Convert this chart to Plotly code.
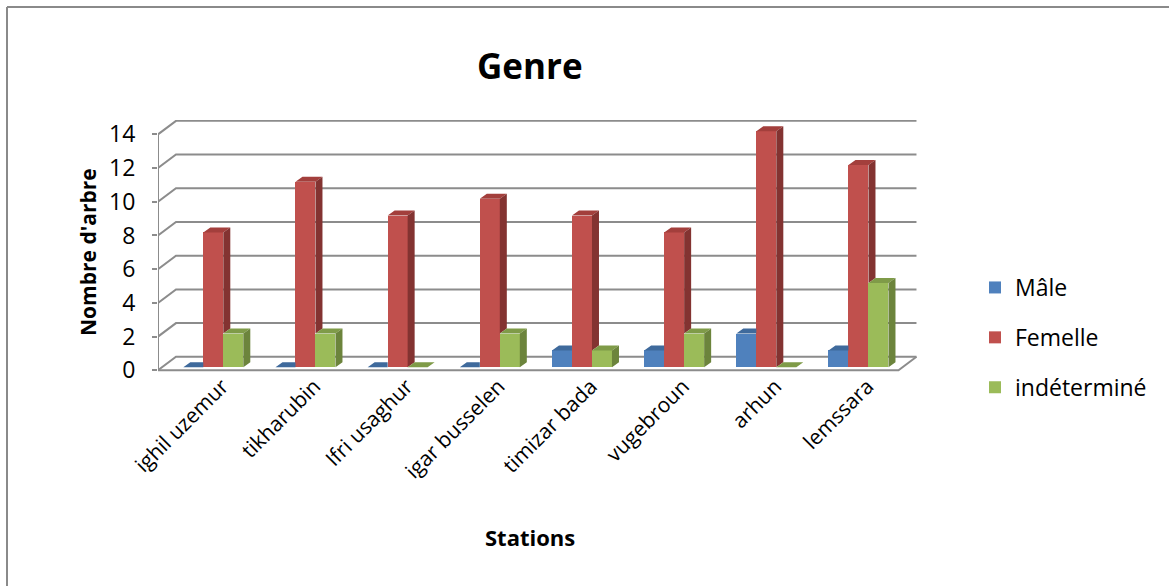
import plotly.graph_objects as go

stations = ["ighil uzemur", "tikharubin", "Ifri usaghur", "igar busselen",
            "timizar bada", "vugebroun", "arhun", "lemssara"]
male = [0, 0, 0, 0, 1, 1, 2, 1]
femelle = [8, 11, 9, 10, 9, 8, 14, 12]
indet = [2, 2, 0, 2, 1, 2, 0, 5]
series_names = ["Mâle", "Femelle", "indéterminé"]
y_ticks = [0, 2, 4, 6, 8, 10, 12, 14]

front_cols = ["#4F81BD", "#C0504D", "#9BBB59"]
top_cols = ["#3F6A9C", "#A33F3C", "#7F9B48"]
side_cols = ["#385D8A", "#833331", "#6C843C"]

FONT = "Open Sans"
W, H = 1169, 586
ML, MR, MT, MB = 158, 246, 120, 214
XR = [-0.6, 7.7]
YR = [-0.1, 14.85]
pw = W - ML - MR
ph = H - MT - MB
xu = (XR[1] - XR[0]) / pw   # data units per px
yu = (YR[1] - YR[0]) / ph

bw = 0.217          # bar width
base = 0.18         # bar base (3D floor offset)
bdx, bdy = 7 * xu, 5 * yu      # bar depth
wdx, wdy = 18 * xu, 13.5 * yu  # wall depth
label_shift = 9 * xu           # category labels sit slightly right of group centre

all_vals = [male, femelle, indet]
offsets = [-bw, 0.0, bw]

fig = go.Figure()

# front faces
for s, vals in enumerate(all_vals):
    fig.add_trace(go.Bar(
        x=[i + offsets[s] for i in range(len(stations))], y=vals, base=base,
        width=bw, name=series_names[s], marker=dict(color=front_cols[s], line=dict(width=0)),
        legendgroup=series_names[s], hoverinfo="skip"))

# top and side faces
for s, vals in enumerate(all_vals):
    tx, ty, sx, sy = [], [], [], []
    for i, v in enumerate(vals):
        xl = i + offsets[s] - bw / 2
        xr = xl + bw
        t = base + v
        nxt = base + all_vals[s + 1][i] if s < 2 else None
        if nxt is not None and nxt > t:
            tx += [xl, xl + bdx, xr, xr, xl, None]
            ty += [t, t + bdy, t + bdy, t, t, None]
        else:
            tx += [xl, xl + bdx, xr + bdx, xr, xl, None]
            ty += [t, t + bdy, t + bdy, t, t, None]
        lower = base if nxt is None else max(base, nxt)
        if v > 0 and lower < t:
            sx += [xr, xr + bdx, xr + bdx, xr, xr, None]
            sy += [lower, lower + bdy, t + bdy, t, lower, None]
    fig.add_trace(go.Scatter(x=tx, y=ty, mode="lines", fill="toself", fillcolor=top_cols[s],
                             line=dict(width=0, color=top_cols[s]), showlegend=False, hoverinfo="skip"))
    fig.add_trace(go.Scatter(x=sx, y=sy, mode="lines", fill="toself", fillcolor=side_cols[s],
                             line=dict(width=0, color=side_cols[s]), showlegend=False, hoverinfo="skip"))

grid_col = "#8c8c8c"
x0 = XR[0]
xfr = 7.434
shapes = []
for v in y_ticks:
    shapes.append(dict(type="path", xref="x", yref="y", layer="below",
                       path=f"M {x0},{v} L {x0 + wdx},{v + wdy} L {xfr + wdx},{v + wdy}",
                       line=dict(color=grid_col, width=2)))
# axis line
shapes.append(dict(type="line", xref="x", yref="y", layer="below", x0=x0, x1=x0, y0=0, y1=14,
                   line=dict(color=grid_col, width=2)))
# floor front and right edges
shapes.append(dict(type="path", xref="x", yref="y", layer="below",
                   path=f"M {x0},0 L {xfr},0 L {xfr + wdx},{wdy}",
                   line=dict(color=grid_col, width=2)))


def px2paper_x(p):
    return (p - ML) / pw


def px2paper_y(p):
    return (MT + ph - p) / ph


# outer chart border (only top and left edges fall inside the picture)
shapes.append(dict(type="line", xref="paper", yref="paper", layer="below",
                   x0=px2paper_x(7), x1=px2paper_x(1169), y0=px2paper_y(7), y1=px2paper_y(7),
                   line=dict(color="#8a8a8a", width=2)))
shapes.append(dict(type="line", xref="paper", yref="paper", layer="below",
                   x0=px2paper_x(7), x1=px2paper_x(7), y0=px2paper_y(7), y1=px2paper_y(586),
                   line=dict(color="#8a8a8a", width=2)))

annotations = [
    dict(text="<b>Genre</b>", xref="paper", yref="paper", x=px2paper_x(530), y=px2paper_y(65),
         showarrow=False, font=dict(family=FONT, size=35, color="black"), xanchor="center", yanchor="middle"),
    dict(text="<b>Stations</b>", xref="paper", yref="paper", x=px2paper_x(530), y=px2paper_y(537),
         showarrow=False, font=dict(family=FONT, size=22, color="black"), xanchor="center", yanchor="middle"),
    dict(text="<b>Nombre d'arbre</b>", xref="paper", yref="paper", x=px2paper_x(88), y=px2paper_y(252),
         showarrow=False, textangle=-90, font=dict(family=FONT, size=21, color="black"),
         xanchor="center", yanchor="middle"),
]

fig.update_layout(
    width=W, height=H, margin=dict(l=ML, r=MR, t=MT, b=MB, autoexpand=False),
    paper_bgcolor="white", plot_bgcolor="white",
    barmode="overlay", bargap=0,
    font=dict(family=FONT, size=20, color="black"),
    shapes=shapes, annotations=annotations,
    legend=dict(x=px2paper_x(975), y=px2paper_y(266), xanchor="left", yanchor="top",
                traceorder="grouped", tracegroupgap=17, font=dict(family=FONT, size=23, color="black"),
                bgcolor="rgba(0,0,0,0)"),
    xaxis=dict(range=XR, tickmode="array", tickvals=[i + label_shift for i in range(len(stations))],
               ticktext=stations, tickangle=-45, showgrid=False, zeroline=False, showline=False, ticks="",
               ticklabelstandoff=-3, tickfont=dict(family=FONT, size=21, color="black")),
    yaxis=dict(range=YR, tickmode="array", tickvals=y_ticks, ticktext=[str(v) for v in y_ticks],
               showgrid=False, zeroline=False, showline=False, ticks="outside", ticklen=5,
               tickcolor=grid_col, tickwidth=2, ticklabelstandoff=12,
               tickfont=dict(family=FONT, size=23, color="black")),
)

fig.write_html("out.html")
